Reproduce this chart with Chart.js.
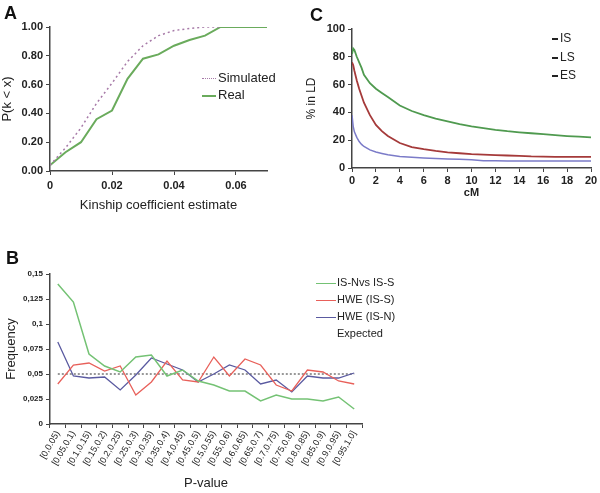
<!DOCTYPE html>
<html>
<head>
<meta charset="utf-8">
<script src="https://cdn.jsdelivr.net/npm/chart.js@4.4.0/dist/chart.umd.min.js"></script>
<style>
    body { margin: 0; background: #fff; font-family: Arial, "Liberation Sans", sans-serif; }
    #page { position: relative; width: 600px; height: 493px; overflow: hidden; }
    canvas { position: absolute; }
    .panel { position: absolute; font-weight: bold; font-size: 18px; color: #111; }
    .leg { position: absolute; white-space: nowrap; color: #222; }
    .sw { position: absolute; height: 0; }
</style>
</head>
<body>
<div id="page">
    <canvas id="chartA" width="290" height="215" style="left:0;top:0"></canvas>
    <canvas id="chartC" width="300" height="200" style="left:300px;top:0"></canvas>
    <canvas id="chartB" width="380" height="263" style="left:0;top:230px"></canvas>

    <div class="panel" style="left:4px;top:3px">A</div>
    <div class="panel" style="left:310px;top:5px">C</div>
    <div class="panel" style="left:6px;top:248px">B</div>

    <!-- legend A -->
    <div class="sw" style="left:202px;top:78px;width:14px;border-top:1.5px dotted #a77aa8"></div>
    <div class="leg" style="left:218px;top:70px;font-size:13px">Simulated</div>
    <div class="sw" style="left:202px;top:95px;width:14px;border-top:2px solid #6aab5c"></div>
    <div class="leg" style="left:218px;top:87px;font-size:13px">Real</div>

    <!-- legend C -->
    <div class="sw" style="left:552px;top:38px;width:6px;border-top:2px solid #222"></div>
    <div class="leg" style="left:560px;top:31px;font-size:12px">IS</div>
    <div class="sw" style="left:552px;top:57px;width:6px;border-top:2px solid #222"></div>
    <div class="leg" style="left:560px;top:50px;font-size:12px">LS</div>
    <div class="sw" style="left:552px;top:75px;width:6px;border-top:2px solid #222"></div>
    <div class="leg" style="left:560px;top:68px;font-size:12px">ES</div>

    <!-- legend B -->
    <div class="sw" style="left:316px;top:283px;width:20px;border-top:1.5px solid #74c274"></div>
    <div class="leg" style="left:337px;top:276px;font-size:11px">IS-Nvs IS-S</div>
    <div class="sw" style="left:316px;top:300px;width:20px;border-top:1.5px solid #e8605a"></div>
    <div class="leg" style="left:337px;top:293px;font-size:11px">HWE (IS-S)</div>
    <div class="sw" style="left:316px;top:317px;width:20px;border-top:1.5px solid #5a5aa0"></div>
    <div class="leg" style="left:337px;top:310px;font-size:11px">HWE (IS-N)</div>
    <div class="leg" style="left:337px;top:327px;font-size:11px">Expected</div>
</div>

<script>
    // Panel A: cumulative distribution of kinship estimates
    const kinshipX = [0, 0.005, 0.01, 0.015, 0.02, 0.025, 0.03, 0.035, 0.04, 0.045, 0.05, 0.055, 0.06, 0.065, 0.07];
    const realP = [0.04, 0.13, 0.20, 0.36, 0.42, 0.64, 0.78, 0.81, 0.87, 0.91, 0.94, 1.00, 1.00, 1.00, 1.00];
    const simulatedP = [0.04, 0.16, 0.30, 0.47, 0.61, 0.76, 0.87, 0.94, 0.975, 0.99, 1.00, 1.00];

    // Panel C: % in LD by distance
    const cM = [0, 0.1, 0.2, 0.4, 0.6, 0.8, 1, 1.5, 2, 2.5, 3, 4, 5, 6, 7, 8, 9, 10, 11, 12, 13, 14, 15, 16, 17, 18, 19, 20];
    const ldIS = [82, 86, 85, 80, 76, 72, 67, 61, 57, 54, 51, 45, 41, 38, 35.5, 33.5, 31.5, 30, 28.7, 27.5, 26.5, 25.7, 25, 24.3, 23.6, 23, 22.5, 22];
    const ldLS = [76, 74, 70, 63, 57, 52, 47, 38, 31, 26.5, 23, 18, 15, 13.5, 12.3, 11.3, 10.6, 10, 9.6, 9.3, 9, 8.7, 8.3, 8.2, 8, 8, 8, 8];
    const ldES = [38, 30, 26, 22, 19, 17, 15.5, 13, 11.5, 10.5, 9.5, 8.3, 7.7, 7.2, 6.8, 6.5, 6.3, 6, 5.3, 5.2, 5.1, 5, 5, 5, 5, 5, 5, 5];

    // Panel B: p-value frequency
    const pBins = ['[0,0.05)', '[0.05,0.1)', '[0.1,0.15)', '[0.15,0.2)', '[0.2,0.25)', '[0.25,0.3)', '[0.3,0.35)',
        '[0.35,0.4)', '[0.4,0.45)', '[0.45,0.5)', '[0.5,0.55)', '[0.55,0.6)', '[0.6,0.65)', '[0.65,0.7)',
        '[0.7,0.75)', '[0.75,0.8)', '[0.8,0.85)', '[0.85,0.9)', '[0.9,0.95)', '[0.95,1.0]'];
    const freqNvsS = [0.140, 0.122, 0.070, 0.058, 0.052, 0.067, 0.069, 0.048, 0.054, 0.043, 0.039, 0.033, 0.033, 0.023, 0.029, 0.025, 0.025, 0.023, 0.027, 0.015];
    const freqHweS = [0.040, 0.059, 0.061, 0.053, 0.058, 0.029, 0.042, 0.063, 0.044, 0.042, 0.067, 0.048, 0.065, 0.059, 0.039, 0.033, 0.054, 0.052, 0.043, 0.040];
    const freqHweN = [0.082, 0.048, 0.046, 0.047, 0.034, 0.049, 0.066, 0.060, 0.054, 0.042, 0.050, 0.059, 0.054, 0.040, 0.044, 0.032, 0.048, 0.046, 0.046, 0.051];
    const freqExpected = pBins.map(() => 0.05);

    Chart.defaults.font.family = 'Arial, "Liberation Sans", sans-serif';
    Chart.defaults.color = '#222';

    const axisGrid = { drawOnChartArea: false, color: '#444', tickLength: 4 };
    const axisBorder = { color: '#444', width: 1.5 };

    function pts(xs, ys) {
        return ys.map((y, i) => ({ x: xs[i], y: y }));
    }

    new Chart(document.getElementById('chartA'), {
        type: 'line',
        data: {
            datasets: [
                { label: 'Simulated', data: pts(kinshipX, simulatedP), borderColor: '#a77aa8', borderWidth: 1.5, borderDash: [2, 3], pointRadius: 0 },
                { label: 'Real', data: pts(kinshipX, realP), borderColor: '#6aab5c', borderWidth: 2, pointRadius: 0 }
            ]
        },
        options: {
            responsive: false,
            animation: false,
            layout: { padding: { left: 0, top: 27, right: 23, bottom: 0 } },
            plugins: { legend: { display: false }, tooltip: { enabled: false } },
            scales: {
                x: {
                    type: 'linear', min: 0, max: 0.07,
                    afterFit(s) { s.height = 44; },
                    ticks: { stepSize: 0.02, includeBounds: false, font: { size: 11, weight: 'bold' }, padding: 4, maxRotation: 0 },
                    grid: axisGrid, border: axisBorder,
                    title: { display: true, text: 'Kinship coefficient estimate', font: { size: 13 }, padding: { top: 0, bottom: 2 } }
                },
                y: {
                    min: 0, max: 1,
                    afterFit(s) { s.width = 50; },
                    ticks: { stepSize: 0.2, font: { size: 11, weight: 'bold' }, padding: 3, callback: v => v.toFixed(2) },
                    grid: axisGrid, border: axisBorder,
                    title: { display: true, text: 'P(k < x)', font: { size: 13 }, padding: 0 }
                }
            }
        }
    });

    new Chart(document.getElementById('chartC'), {
        type: 'line',
        data: {
            datasets: [
                { label: 'IS', data: pts(cM, ldIS), borderColor: '#4f9a4f', borderWidth: 1.8, pointRadius: 0 },
                { label: 'LS', data: pts(cM, ldLS), borderColor: '#a53a3a', borderWidth: 1.8, pointRadius: 0 },
                { label: 'ES', data: pts(cM, ldES), borderColor: '#7b7bc8', borderWidth: 1.5, pointRadius: 0 }
            ]
        },
        options: {
            responsive: false,
            animation: false,
            layout: { padding: { left: 4, top: 29, right: 9, bottom: 0 } },
            plugins: { legend: { display: false }, tooltip: { enabled: false } },
            scales: {
                x: {
                    type: 'linear', min: 0, max: 20,
                    afterFit(s) { s.height = 32; },
                    ticks: { stepSize: 2, font: { size: 11, weight: 'bold' }, padding: 2, maxRotation: 0 },
                    grid: axisGrid, border: axisBorder,
                    title: { display: true, text: 'cM', font: { size: 11, weight: 'bold' }, padding: { top: 0, bottom: 0 } }
                },
                y: {
                    min: 0, max: 100,
                    afterFit(s) { s.width = 48; },
                    ticks: { stepSize: 20, font: { size: 11, weight: 'bold' }, padding: 3 },
                    grid: axisGrid, border: axisBorder,
                    title: { display: true, text: '% in LD', font: { size: 12 }, padding: 0 }
                }
            }
        }
    });

    new Chart(document.getElementById('chartB'), {
        type: 'line',
        data: {
            labels: pBins,
            datasets: [
                { label: 'IS-Nvs IS-S', data: freqNvsS, borderColor: '#74c274', borderWidth: 1.5, pointRadius: 0 },
                { label: 'HWE (IS-S)', data: freqHweS, borderColor: '#e8605a', borderWidth: 1.3, pointRadius: 0 },
                { label: 'HWE (IS-N)', data: freqHweN, borderColor: '#5a5aa0', borderWidth: 1.3, pointRadius: 0 },
                { label: 'Expected', data: freqExpected, borderColor: '#333', borderWidth: 1, borderDash: [2, 2], pointRadius: 0 }
            ]
        },
        options: {
            responsive: false,
            animation: false,
            layout: { padding: { left: 4, top: 44, right: 18, bottom: 0 } },
            plugins: { legend: { display: false }, tooltip: { enabled: false } },
            scales: {
                x: {
                    offset: true,
                    afterFit(s) { s.height = 69; },
                    ticks: { autoSkip: false, minRotation: 60, maxRotation: 60, font: { size: 9 }, padding: 1 },
                    grid: { drawOnChartArea: false, color: '#444', tickLength: 4, offset: true },
                    border: axisBorder,
                    title: { display: true, text: 'P-value', font: { size: 13 }, padding: { top: 0, bottom: 2 } }
                },
                y: {
                    min: 0, max: 0.15,
                    afterFit(s) { s.width = 46; },
                    ticks: {
                        stepSize: 0.025, font: { size: 8, weight: 'bold' }, padding: 3,
                        callback: v => String(Math.round(v * 1000) / 1000).replace('.', ',')
                    },
                    grid: axisGrid, border: axisBorder,
                    title: { display: true, text: 'Frequency', font: { size: 13 }, padding: 0 }
                }
            }
        }
    });
</script>
</body>
</html>
